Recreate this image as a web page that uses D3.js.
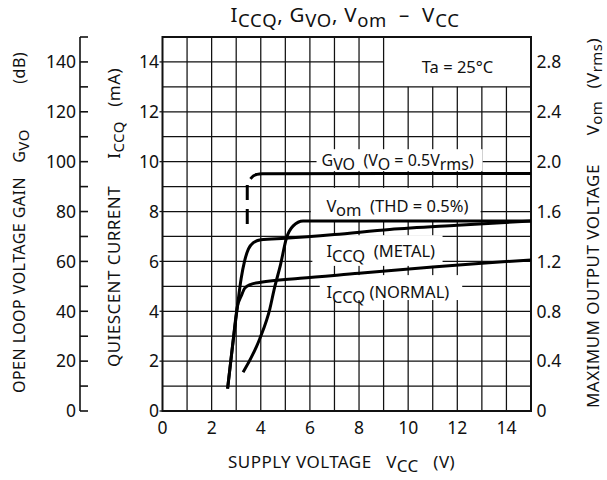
<!DOCTYPE html>
<html>
<head>
<meta charset="utf-8">
<script src="https://cdn.jsdelivr.net/npm/d3@7"></script>
<style>
  html, body { margin: 0; padding: 0; background: #fff; }
  svg { display: block; }
  text { font-family: "Noto Sans", "Open Sans", sans-serif; fill: #111; }
</style>
</head>
<body>
<svg id="chart" width="607" height="480"></svg>
<script>
// ---------------- data ----------------
const xTicks = [0, 2, 4, 6, 8, 10, 12, 14];            // supply voltage Vcc (V)
const iccTicks = [0, 2, 4, 6, 8, 10, 12, 14];          // ICCQ (mA)
const gvoTicks = [0, 20, 40, 60, 80, 100, 120, 140];   // Gvo (dB)
const vomTicks = ["0", "0.4", "0.8", "1.2", "1.6", "2.0", "2.4", "2.8"]; // Vom (Vrms)

// ICCQ (METAL) : [Vcc, mA]
const iccMetal = [[2.65,0.9],[2.85,2.6],[3.05,4.2],[3.2,5.3],[3.35,6.05],[3.5,6.5],[3.7,6.75],[4.0,6.87],[5,6.93],[7,7.08],[9.25,7.28],[12,7.45],[15,7.62]];
// ICCQ (NORMAL) : [Vcc, mA]
const iccNormal = [[2.65,0.9],[2.85,2.6],[3.05,4.2],[3.2,4.6],[3.35,4.93],[3.6,5.08],[4.0,5.16],[5.6,5.32],[8,5.52],[11,5.78],[13,5.93],[15,6.06]];
// Vom (THD = 0.5%) : [Vcc, Vrms]
const vomCurve = [[3.28,0.31],[3.96,0.58],[4.37,0.82],[4.55,0.98],[4.8,1.17],[5.05,1.39],[5.32,1.485],[5.72,1.525],[15,1.525]];
// Gvo (Vo = 0.5 Vrms) : [Vcc, dB]
const gvoDashed = [[3.45,75],[3.45,91]];
const gvoSolid = [[3.58,93.1],[3.7,94.3],[3.85,94.9],[4.05,95.2],[15,95.3]];

// ---------------- layout ----------------
const svg = d3.select("#chart");
const L = 162.5, R = 531, T = 37, B = 411;
const S = "\u00a0";

const x = d3.scaleLinear().domain([0, 15]).range([L, R]);
const yI = d3.scaleLinear().domain([0, 15]).range([B, T]);
const yG = d3.scaleLinear().domain([0, 150]).range([B, T]);
const yV = d3.scaleLinear().domain([0, 3]).range([B, T]);

// rich text helper: parts = [[string, isSub]]
function rich(sel, parts, subDy, subSize) {
  let cur = 0;
  parts.forEach(([s, sub]) => {
    const want = sub ? subDy : 0;
    const t = sel.append("tspan").attr("dy", want - cur).text(s.replace(/ /g, S));
    if (sub && subSize) t.attr("font-size", subSize);
    cur = want;
  });
  return sel;
}

// ---------------- grid ----------------
const grid = svg.append("g").attr("stroke", "#111").attr("stroke-width", 1.25).attr("fill", "none");
d3.range(1, 15).forEach(v => {
  const top = v > 9 ? yI(13) : yI(15);
  grid.append("line").attr("x1", x(v)).attr("x2", x(v)).attr("y1", yI(0)).attr("y2", top);
  const right = v === 14 ? x(9) : x(15);
  grid.append("line").attr("x1", x(0)).attr("x2", right).attr("y1", yI(v)).attr("y2", yI(v));
});
iccTicks.forEach(v => {
  grid.append("line").attr("x1", x(0) - 3).attr("x2", x(0)).attr("y1", yI(v)).attr("y2", yI(v));
});

// white label boxes (hide grid under labels)
const boxes = [
  [6.27, 13.03, 9.62, 10.5],
  [6.04, 12.95, 7.66, 8.95],
  [6.1, 11.4, 5.82, 7.05],
  [6.4, 12.2, 4.45, 5.45]
];
svg.append("g").selectAll("rect").data(boxes).join("rect")
  .attr("x", d => x(d[0])).attr("width", d => x(d[1]) - x(d[0]))
  .attr("y", d => yI(d[3])).attr("height", d => yI(d[2]) - yI(d[3]))
  .attr("fill", "#fff");

// plot border
svg.append("rect").attr("x", L).attr("y", T).attr("width", R - L).attr("height", B - T)
  .attr("fill", "none").attr("stroke", "#111").attr("stroke-width", 2);

// ---------------- curves ----------------
const lineI = d3.line().x(d => x(d[0])).y(d => yI(d[1])).curve(d3.curveMonotoneX);
const lineV = d3.line().x(d => x(d[0])).y(d => yV(d[1])).curve(d3.curveMonotoneX);
const lineG = d3.line().x(d => x(d[0])).y(d => yG(d[1])).curve(d3.curveMonotoneX);

const curves = svg.append("g").attr("fill", "none").attr("stroke", "#000")
  .attr("stroke-width", 3).attr("stroke-linecap", "butt").attr("stroke-linejoin", "round");
curves.append("path").attr("d", lineI(iccMetal));
curves.append("path").attr("d", lineI(iccNormal));
curves.append("path").attr("d", lineV(vomCurve));
curves.append("path").attr("d", lineG(gvoSolid));
curves.append("path").attr("d", d3.line().x(d => x(d[0])).y(d => yG(d[1]))(gvoDashed))
  .attr("stroke-dasharray", "15,9");

// ---------------- curve labels ----------------
const lab = svg.append("g");
rich(lab.append("text").attr("x", 321.5).attr("y", 166).attr("font-size", 16),
  [["G", 0], ["VO", 1], ["  (V", 0], ["O", 1], [" = 0.5V", 0], ["rms", 1], [")", 0]], 4);
rich(lab.append("text").attr("x", 326.5).attr("y", 211.5).attr("font-size", 16.5),
  [["V", 0], ["om", 1], ["  (THD = 0.5%)", 0]], 4);
rich(lab.append("text").attr("x", 326.5).attr("y", 257).attr("font-size", 16.5),
  [["I", 0], ["CCQ", 1], ["  (METAL)", 0]], 5);
rich(lab.append("text").attr("x", 326.5).attr("y", 298).attr("font-size", 16.5),
  [["I", 0], ["CCQ", 1], [" (NORMAL)", 0]], 5);
lab.append("text").attr("x", 457.5).attr("y", 72.5).attr("text-anchor", "middle")
  .attr("font-size", 16.5).text("Ta = 25°C".replace(/ /g, S));

// ---------------- axes ----------------
const ax = svg.append("g").attr("font-size", 17.5);
ax.selectAll(".xt").data(xTicks).join("text")
  .attr("x", d => x(d)).attr("y", 433.5).attr("text-anchor", "middle").text(d => d);
ax.selectAll(".it").data(iccTicks).join("text")
  .attr("x", 159).attr("y", d => yI(d)).attr("dy", "0.36em").attr("text-anchor", "end").text(d => d);
ax.selectAll(".vt").data(vomTicks).join("text")
  .attr("x", 536.5).attr("y", d => yV(+d)).attr("dy", "0.36em").attr("text-anchor", "start").text(d => d);

const gAxisX = 80;
const ga = svg.append("g").attr("stroke", "#111").attr("stroke-width", 1.6);
ga.append("line").attr("x1", gAxisX).attr("x2", gAxisX).attr("y1", yG(0)).attr("y2", yG(150));
d3.range(0, 151, 10).forEach(v => {
  ga.append("line").attr("x1", gAxisX).attr("x2", gAxisX + 8).attr("y1", yG(v)).attr("y2", yG(v));
});
ax.selectAll(".gt").data(gvoTicks).join("text")
  .attr("x", 76).attr("y", d => yG(d)).attr("dy", "0.36em").attr("text-anchor", "end").text(d => d);

// axis titles
const at = svg.append("g").attr("font-size", 17).attr("letter-spacing", 0.45);
rich(at.append("text").attr("x", 228).attr("y", 468),
  [["SUPPLY VOLTAGE   V", 0], ["CC", 1], ["   (V)", 0]], 4);

function vlabel(bx, fs, parts) {
  parts.forEach(([anchor, yy, rp, sdy]) => {
    rich(at.append("text").attr("transform", `translate(${bx},${yy}) rotate(-90)`)
      .attr("font-size", fs).attr("text-anchor", anchor), rp, sdy, 15);
  });
}
vlabel(25, 16, [
  ["start", 393, [["OPEN LOOP VOLTAGE GAIN", 0]], 4],
  ["middle", 146, [["G", 0], ["VO", 1]], 4],
  ["end", 52, [["(dB)", 0]], 4]
]);
vlabel(120, 17, [
  ["start", 367, [["QUIESCENT CURRENT", 0]], 4],
  ["middle", 140, [["I", 0], ["CCQ", 1]], 4],
  ["end", 68, [["(mA)", 0]], 4]
]);
vlabel(599, 17, [
  ["start", 408, [["MAXIMUM OUTPUT VOLTAGE", 0]], 2.5],
  ["middle", 118, [["V", 0], ["om", 1]], 2.5],
  ["end", 38, [["(V", 0], ["rms", 1], [")", 0]], 2.5]
]);

// chart title
rich(svg.append("text").attr("x", 345).attr("y", 22).attr("text-anchor", "middle")
  .attr("font-size", 20.5).attr("letter-spacing", 0.7),
  [["I", 0], ["CCQ", 1], [", G", 0], ["VO", 1], [", V", 0], ["om", 1], ["  –  V", 0], ["CC", 1]], 5, 18.5);
</script>
</body>
</html>
